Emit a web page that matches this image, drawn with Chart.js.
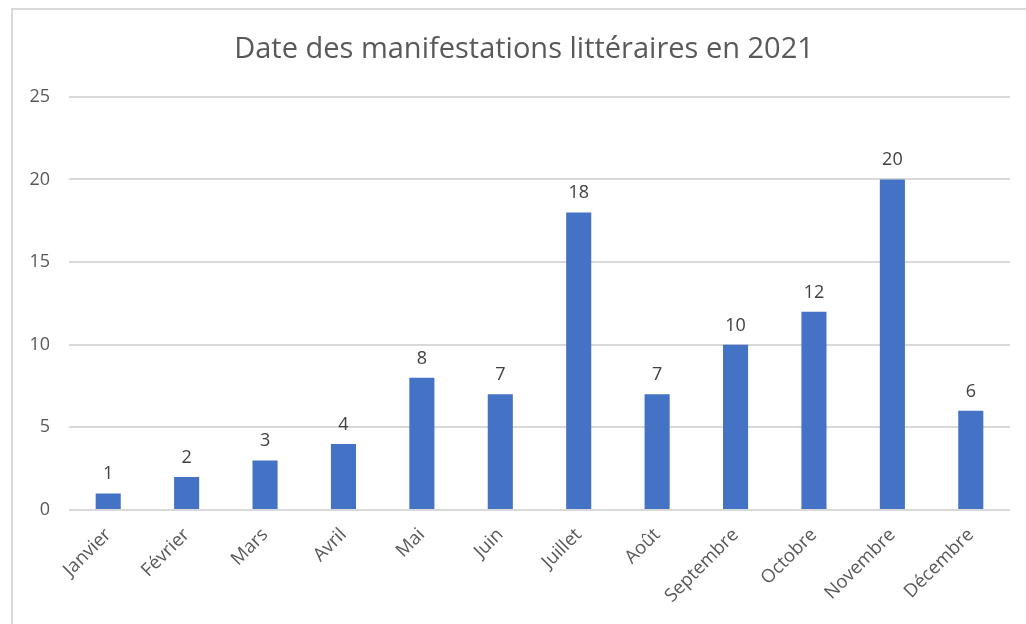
<!DOCTYPE html>
<html><head><meta charset="utf-8">
<script src="https://cdn.jsdelivr.net/npm/chart.js@4"></script>
<style>
html,body{margin:0;padding:0;background:#fff;}
#wrap{position:relative;width:1026px;height:624px;overflow:hidden;}
#frame{position:absolute;left:11px;top:8px;width:1100px;height:700px;border:2px solid #d9d9d9;box-sizing:border-box;}
canvas{position:absolute;left:0;top:0;}
</style></head>
<body><div id="wrap"><div id="frame"></div><canvas id="c" width="1026" height="624"></canvas></div>
<script>
const titleText = "Date des manifestations littéraires en 2021";
const months = ["Janvier","Février","Mars","Avril","Mai","Juin","Juillet","Août","Septembre","Octobre","Novembre","Décembre"];
const counts = [1,2,3,4,8,7,18,7,10,12,20,6];
const yTicks = [0,5,10,15,20,25];

const FONT = "'Open Sans', sans-serif";
const valueLabels = {
  id:'valueLabels',
  afterDatasetsDraw(chart){
    const ctx = chart.ctx;
    const meta = chart.getDatasetMeta(0);
    ctx.save();
    ctx.font = "18px " + FONT;
    ctx.fillStyle = "#404040";
    ctx.textAlign = "center";
    ctx.textBaseline = "alphabetic";
    meta.data.forEach((bar,i)=>{
      ctx.fillText(String(counts[i]), bar.x, bar.y - 14);
    });
    ctx.restore();
  }
};
// shift the title block so it is centred over the frame rather than the padded box
const titleShift = {
  id:'titleShift',
  afterLayout(chart){
    const t = chart.titleBlock;
    if (t) { t.left += 13; t.right += 13; }
  }
};

new Chart(document.getElementById('c'),{
  type:'bar',
  data:{labels:months,datasets:[{data:counts,backgroundColor:'#4472C4',borderWidth:0,barPercentage:0.32,categoryPercentage:1}]},
  options:{
    responsive:false,animation:false,
    layout:{padding:{left:12,right:16,top:0,bottom:0}},
    plugins:{
      legend:{display:false},tooltip:{enabled:false},
      title:{display:true,text:titleText,color:'#595959',font:{family:FONT,size:29,weight:'normal'},padding:{top:32,bottom:30}}
    },
    scales:{
      x:{
        grid:{display:false},border:{display:false},
        ticks:{color:'#595959',font:{family:FONT,size:18.5},minRotation:45,maxRotation:45,padding:6},
        afterFit(s){s.height=114;}
      },
      y:{
        min:0,max:25,
        afterBuildTicks(s){s.ticks=yTicks.map(v=>({value:v}));},
        grid:{color:'#d9d9d9',lineWidth:2,drawTicks:false},border:{display:false},
        ticks:{color:'#595959',font:{family:FONT,size:18},padding:19},
        afterFit(s){s.width=57;}
      }
    }
  },
  plugins:[titleShift, valueLabels]
});
</script></body></html>
